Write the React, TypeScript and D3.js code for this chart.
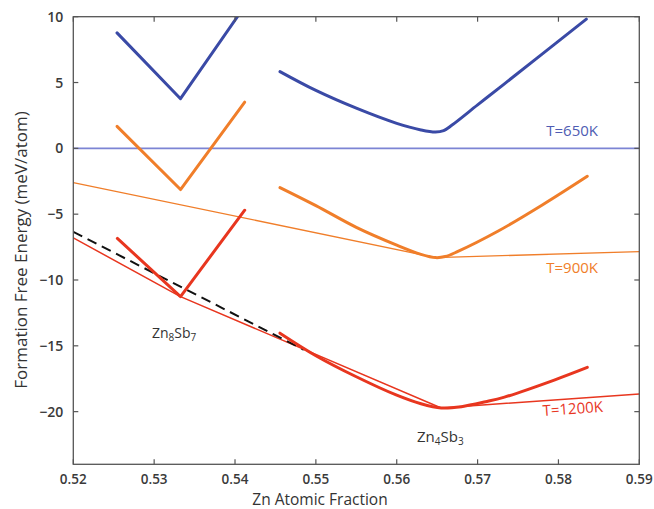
import React from "react";
import * as d3 from "d3";

const W = 654, H = 509;
const M = { left: 73.3, right: 639.3, top: 16.7, bottom: 464.3 };

const xTicks = [0.52, 0.53, 0.54, 0.55, 0.56, 0.57, 0.58, 0.59];
const yTicks = [10, 5, 0, -5, -10, -15, -20];

// [x, y] points
const blueZn8: [number, number][] = [[0.52541, 8.77], [0.53326, 3.77], [0.5403, 10]];
const orangeZn8: [number, number][] = [[0.52541, 1.67], [0.53326, -3.13], [0.5412, 3.51]];
const redZn8: [number, number][] = [[0.52545, -6.84], [0.53326, -11.26], [0.5412, -4.7]];

const blueZn4: [number, number][] = [[0.54556, 5.83], [0.5500, 4.4], [0.5550, 3.05], [0.5600, 1.9], [0.5630, 1.4], [0.5648, 1.24], [0.5658, 1.35], [0.5668, 1.75], [0.5700, 3.3], [0.57332, 4.9], [0.58345, 9.82]];
const orangeZn4: [number, number][] = [[0.54556, -2.98], [0.5500, -4.35], [0.5550, -6.0], [0.5600, -7.35], [0.5630, -8.05], [0.5648, -8.3], [0.5660, -8.22], [0.5675, -7.85], [0.5725, -6.3], [0.5780, -4.3], [0.58357, -2.12]];
const redZn4: [number, number][] = [[0.54556, -14.04], [0.5500, -15.75], [0.5550, -17.35], [0.5600, -18.75], [0.5630, -19.4], [0.5655, -19.72], [0.5680, -19.62], [0.5710, -19.25], [0.57332, -18.9], [0.57948, -17.6], [0.58357, -16.64]];

const hull650: [number, number][] = [[0.52, 0], [0.59, 0]];
const hull900: [number, number][] = [[0.52, -2.6], [0.5648, -8.3], [0.59, -7.85]];
const hull1200: [number, number][] = [[0.52, -6.8], [0.53326, -11.26], [0.5655, -19.72], [0.59, -18.66]];
const dashedTangent: [number, number][] = [[0.52, -6.34], [0.5485, -15.3]];

const BLUE = "#3a4aa6";
const BLUE_THIN = "#7c84d4";
const ORANGE = "#f07e2a";
const RED = "#e8361f";

export default function App() {
  const x = d3.scaleLinear().domain([0.52, 0.59]).range([M.left, M.right]);
  const y = d3.scaleLinear().domain([-24, 10]).range([M.bottom, M.top]);
  const lin = d3.line<[number, number]>().x(d => x(d[0])).y(d => y(d[1]));
  const smooth = d3.line<[number, number]>().x(d => x(d[0])).y(d => y(d[1])).curve(d3.curveCatmullRom.alpha(0.5));
  const font = "'Open Sans', sans-serif";
  const axisColor = "#555";
  const tickLen = 5;
  const fmtY = (v: number) => (v < 0 ? "\u2212" + Math.abs(v) : String(v));

  return (
    <svg width={W} height={H} style={{ position: "absolute", left: 0, top: 0, background: "#fff" }} fontFamily={font}>
      <defs>
        <clipPath id="plot">
          <rect x={M.left} y={M.top} width={M.right - M.left} height={M.bottom - M.top} />
        </clipPath>
      </defs>
      <g clipPath="url(#plot)" fill="none" strokeLinecap="round" strokeLinejoin="round">
        <path d={lin(hull650)!} stroke={BLUE_THIN} strokeWidth={1.6} />
        <path d={lin(hull900)!} stroke={ORANGE} strokeWidth={1.3} />
        <path d={lin(hull1200)!} stroke={RED} strokeWidth={1.5} />
        <path d={lin(dashedTangent)!} stroke="#111" strokeWidth={2} strokeDasharray="10,6" strokeLinecap="butt" />
        <path d={lin(blueZn8)!} stroke={BLUE} strokeWidth={3} />
        <path d={lin(orangeZn8)!} stroke={ORANGE} strokeWidth={3} />
        <path d={lin(redZn8)!} stroke={RED} strokeWidth={3} />
        <path d={smooth(blueZn4)!} stroke={BLUE} strokeWidth={3} />
        <path d={smooth(orangeZn4)!} stroke={ORANGE} strokeWidth={3} />
        <path d={smooth(redZn4)!} stroke={RED} strokeWidth={3} />
      </g>
      <rect x={M.left} y={M.top} width={M.right - M.left} height={M.bottom - M.top} fill="none" stroke={axisColor} strokeWidth={1.3} />
      {xTicks.map(t => (
        <g key={"x" + t}>
          <line x1={x(t)} x2={x(t)} y1={M.bottom} y2={M.bottom - tickLen} stroke={axisColor} strokeWidth={1.2} />
          <line x1={x(t)} x2={x(t)} y1={M.top} y2={M.top + tickLen} stroke={axisColor} strokeWidth={1.2} />
          <text x={x(t)} y={483.5} textAnchor="middle" fontSize={13.5} fontWeight={600} fill="#3a3a3a">{t.toFixed(2)}</text>
        </g>
      ))}
      {yTicks.map(t => (
        <g key={"y" + t}>
          <line x1={M.left} x2={M.left + tickLen} y1={y(t)} y2={y(t)} stroke={axisColor} strokeWidth={1.2} />
          <line x1={M.right} x2={M.right - tickLen} y1={y(t)} y2={y(t)} stroke={axisColor} strokeWidth={1.2} />
          <text x={M.left - 10} y={y(t) + 5} textAnchor="end" fontSize={14} fontWeight={600} fill="#3a3a3a">{fmtY(t)}</text>
        </g>
      ))}
      <text x={320} y={504.5} textAnchor="middle" fontSize={15.5} fill="#333">Zn Atomic Fraction</text>
      <text transform={`translate(27, 250) rotate(-90)`} textAnchor="middle" fontSize={17} fill="#333">Formation Free Energy (meV/atom)</text>

      <text x={598} y={136} textAnchor="end" fontSize={15} fill="#4f5cb3">T=650K</text>
      <text x={598} y={273} textAnchor="end" fontSize={15} fill={ORANGE}>T=900K</text>
      <text x={603} y={414} textAnchor="end" fontSize={15} fill={RED} transform="rotate(-4, 572, 410)">T=1200K</text>
      <text x={152} y={338} fontSize={14} fill="#333">Zn<tspan fontSize={10} dy={3}>8</tspan><tspan dy={-3}>Sb</tspan><tspan fontSize={10} dy={3}>7</tspan></text>
      <text x={417} y={442} fontSize={15} fill="#333">Zn<tspan fontSize={10} dy={3}>4</tspan><tspan dy={-3}>Sb</tspan><tspan fontSize={10} dy={3}>3</tspan></text>
    </svg>
  );
}
